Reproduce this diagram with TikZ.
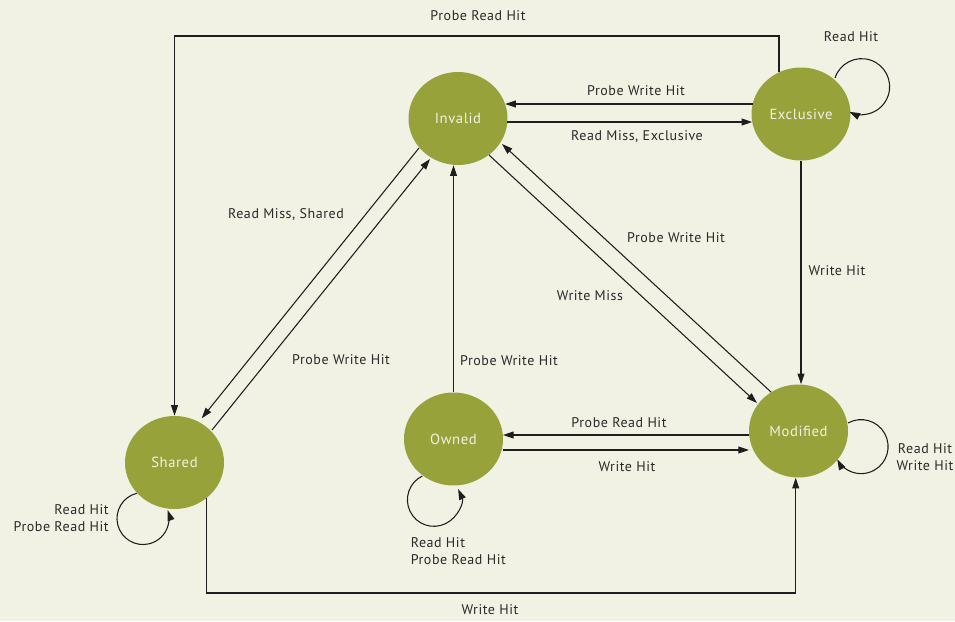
\documentclass[tikz,border=0pt]{standalone}
\usepackage{fontspec}
\setmainfont{PT Sans}[LetterSpace=4]
\usetikzlibrary{shapes.geometric,arrows.meta,calc,backgrounds}
\definecolor{paper}{HTML}{F1F1E4}
\definecolor{olive}{HTML}{97A33A}
\definecolor{ink}{HTML}{1E1E1E}
\definecolor{labelink}{HTML}{2A2A2A}
\begin{document}
\begin{tikzpicture}[x=0.75pt,y=-0.75pt,
  state/.style={ellipse,fill=olive,draw=none,minimum width=74.25pt,minimum height=69.75pt,
    inner sep=0pt,text=paper,font=\fontsize{11}{13}\selectfont},
  trans/.style={draw=ink,line width=0.8pt,-{Triangle[length=8pt,width=5.2pt]}},
  lbl/.style={text=labelink,font=\fontsize{10.5}{12.75}\selectfont,inner sep=0pt}]
\fill[paper] (0,0) rectangle (955,621);
\useasboundingbox (0,0) rectangle (955,621);

% states
\node[state] (inv) at (458,118.5) {Invalid};
\node[state] (exc) at (801,114) {Exclusive};
\node[state] (mod) at (798.5,431) {Modified};
\node[state] (shr) at (174.5,462.5) {Shared};
\node[state] (own) at (453.5,439) {Owned};

% transitions
\draw[trans] ($(exc)+(-22,-42)$) -- ++(0,-36) -| (shr.north);
\draw[trans] ($(exc)+(-48.3,-10)$) -- ($(inv)+(47.2,-14.5)$);
\draw[trans] ($(inv)+(49.3,3.5)$) -- ($(exc)+(-48.8,8)$);
\draw[trans] ($(exc)+(34,-36)$) arc[start angle=198,end angle=476,radius=28];
\draw[trans] (exc.south) -- (exc.south |- mod.north);
\draw[trans] ($(inv)+(31,36.5)$) -- ($(mod)+(-41.5,-28)$);
\draw[trans] ($(mod)+(-27.5,-39)$) -- ($(inv)+(44,25.5)$);
\draw[trans] ($(inv)+(-39,29.5)$) -- ($(shr)+(27.2,-44.2)$);
\draw[trans] ($(shr)+(37.5,-32.5)$) -- ($(inv)+(-28,40.5)$);
\draw[trans] (own.north) -- (own.north |- inv.south);
\draw[trans] ($(mod)+(-49.3,4)$) -- ($(own)+(49.5,-4)$);
\draw[trans] ($(own)+(49.5,11)$) -- ($(mod)+(-49.5,19)$);
\draw[trans] ($(mod)+(49.5,-8)$) arc[start angle=241,end angle=512,radius=27];
\draw[trans] ($(shr)+(32.2,35.5)$) -- ++(0,95) -| ($(mod.south)+(-2.8,0)$);
\draw[trans] ($(shr)+(-37.8,30.8)$) arc[start angle=256,end angle=-19,radius=26];
\draw[trans] ($(own)+(-31.2,37)$) arc[start angle=244,end angle=-24,radius=26.5];

% labels
\node[lbl] (l1) at (478,16) {Probe Read Hit};
\node[lbl] (l2) at (851,37) {Read Hit};
\node[lbl] (l3) at (636,91) {Probe Write Hit};
\node[lbl] (l4) at (637,137) {Read Miss, Exclusive};
\node[lbl] (l5) at (286,215) {Read Miss, Shared};
\node[lbl] (l6) at (676,238) {Probe Write Hit};
\node[lbl] (l7) at (837,271) {Write Hit};
\node[lbl] (l8) at (590,296) {Write Miss};
\node[lbl] (l9) at (341,360) {Probe Write Hit};
\node[lbl] (l10) at (509,361) {Probe Write Hit};
\node[lbl] (l11) at (619,423) {Probe Read Hit};
\node[lbl] (l12) at (627,467) {Write Hit};
\node[lbl,align=center] (l13) at (925,457.5) {Read Hit\\Write Hit};
\node[lbl,align=right,anchor=east] (l14) at (109,518.5) {Read Hit\\Probe Read Hit};
\node[lbl,align=left,anchor=west] (l15) at (410.5,551) {Read Hit\\Probe Read Hit};
\node[lbl] (l16) at (490,610) {Write Hit};
\end{tikzpicture}
\end{document}
